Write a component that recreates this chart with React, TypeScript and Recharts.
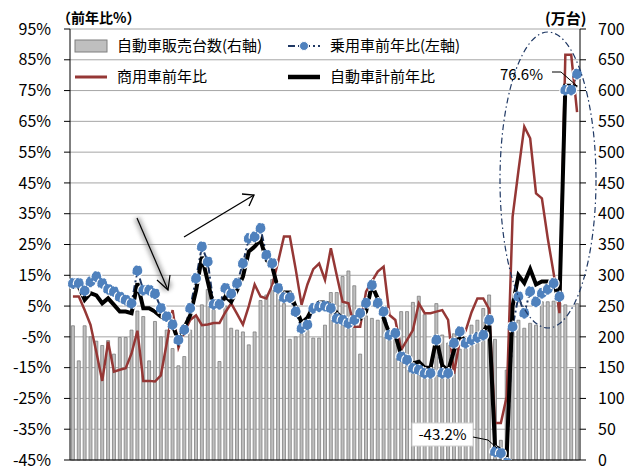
import { ComposedChart, Bar, Line, XAxis, YAxis, CartesianGrid } from "recharts";

const FONT = "'Noto Sans CJK JP', 'Noto Sans', sans-serif";

// 2014/1 .. 2021/3, monthly (Jan and Feb share the combined Jan-Feb rate)
const months = Array.from({ length: 87 }, (_, i) => `${2014 + Math.floor(i / 12)}/${(i % 12) + 1}`);

// 自動車販売台数 (万台, right axis)
const sales = [
  218, 161, 218, 200, 193, 186, 194, 172, 199, 199, 211, 242,
  233, 161, 225, 200, 211, 181, 153, 168, 211, 232, 252, 277,
  252, 160, 250, 214, 211, 208, 187, 208, 259, 268, 293, 276,
  254, 196, 200, 211, 216, 198, 198, 219, 272, 272, 298, 307,
  283, 172, 234, 230, 227, 227, 211, 203, 241, 241, 256, 266,
  236, 150, 254, 203, 190, 205, 180, 196, 219, 227, 246, 268,
  196, 32, 146, 214, 227, 214, 222, 219, 257, 257, 258, 255,
  252, 147, 254,
];

// 乗用車前年比 (%)
const passenger = [
  12.4, 12.4, 10, 12.9, 14.6, 12.4, 10.5, 9.7, 8, 7, 5.9, 16.5,
  10.2, 10.2, 9, 4.3, 1.6, -1, -6, -2.7, 4.3, 14, 24.3, 19.4,
  5.6, 5.6, 10.8, 9, 12.4, 18.9, 27, 27.5, 30.3, 21.6, 18.9, 10.8,
  7.8, 7.8, 3.2, -2.2, -1.1, 4.3, 4.8, 5, 4.3, 1, 0.5, -0.6,
  0.5, 2.7, 6, 11.8, 6, 3.2, -4.4, -3.8, -11.4, -12.5, -15.2, -15.7,
  -16.8, -16.8, -6, -16.8, -16.8, -7, -3.3, -7, -6, -5.2, -4.4, 0.5,
  -42.3, -42.8, -46, -1.7, 8.1, 2.7, 9.7, 6.4, 9.2, 10.5, 12.4, 8.1,
  75.2, 75.2, 80.4,
];

// 商用車前年比 (%)
const commercial = [
  8.1, 8.1, 3.7, -1.1, -10, -19.3, -6.6, -16.3, -15.7, -15.2, -10.4, -3,
  -19.3, -19.3, -19.5, -17.5, -7.1, 3.7, -8.5, -3.5, 0.5, 2, -1.2, -1,
  -0.5, -0.5, 3, 5.9, 2.5, -1, 5, 12, 8.1, 7.5, 11.8, 19.4,
  27.6, 27.6, 17, 5.4, 12, 17, 18.8, 13.5, 23.8, 15, 6.4, 5.9,
  -1.7, -1.7, 9.7, 13, 16.2, 17.8, 2.1, 0.5, -9.2, -6, -2.8, 5.9,
  2.7, 2.7, 3.2, 3.7, 0.5, -17, -6, -3, 3, 7.5, 7.5, 4,
  -33, -33, -24.4, 34, 49, 63.3, 59.5, 41.6, 40, 27, 15.7, 2.7,
  86.6, 86.6, 68,
];

// 自動車計前年比 (%)
const total = [
  11.3, 11.3, 7, 9.2, 8.5, 5.9, 7.5, 5.4, 3.2, 3.2, 2.7, 12.4,
  4.3, 4.3, 3.2, 1.6, 1, -1.1, -6.5, -2, 2, 10, 21, 13,
  4.8, 4.8, 8.1, 6.4, 10.2, 14.6, 22.7, 24.3, 26.5, 20, 17.8, 10.5,
  9.4, 9.4, 4.8, -0.5, 1.2, 4.8, 6.2, 6.2, 5.5, 2.8, 1, 0.6,
  0.8, 0.8, 3.2, 11.8, 7.5, 1, -4, -4.4, -11, -12, -13.6, -13.1,
  -15, -15, -5.5, -14.3, -16, -9.5, -4.4, -6.5, -5, -4, -3.5, 0,
  -40.6, -41.7, -43.2, 5, 15, 12.5, 17, 12, 13, 13, 12.5, 6.5,
  76.6, 76.6, 76,
];

const leftTicks = [-45, -35, -25, -15, -5, 5, 15, 25, 35, 45, 55, 65, 75, 85, 95];
const rightTicks = [0, 50, 100, 150, 200, 250, 300, 350, 400, 450, 500, 550, 600, 650, 700];

const data = months.map((m, i) => ({
  m,
  sales: sales[i],
  passenger: passenger[i],
  commercial: commercial[i],
  total: total[i],
}));

const NAVY = "#1f3864";

function Overlay() {
  return (
    <svg
      width={637}
      height={468}
      style={{ position: "absolute", left: 0, top: 0, pointerEvents: "none" }}
      fontFamily={FONT}
    >
      <defs>
        <filter id="fuzz" x="-50%" y="-50%" width="200%" height="200%">
          <feGaussianBlur stdDeviation="2" />
        </filter>
      </defs>

      {/* axis titles */}
      <text x={57} y={23} fontSize={14} fontWeight="bold">（前年比%）</text>
      <text x={545} y={24} fontSize={15} fontWeight="bold">(万台)</text>

      {/* legend */}
      <rect x={75} y={40} width={32} height={12} fill="#bfbfbf" stroke="#7f7f7f" />
      <text x={117} y={51} fontSize={15}>自動車販売台数(右軸)</text>
      <line x1={288} x2={320} y1={46} y2={46} stroke={NAVY} strokeWidth={2} strokeDasharray="7 3 2 3" />
      <circle cx={304} cy={46} r={4.5} fill="#4f81bd" stroke="#fff" strokeWidth={1} />
      <text x={330} y={51} fontSize={15}>乗用車前年比(左軸)</text>
      <line x1={75} x2={107} y1={77} y2={77} stroke="#953735" strokeWidth={3} />
      <text x={117} y={82} fontSize={15}>商用車前年比</text>
      <line x1={288} x2={320} y1={77} y2={77} stroke="#000" strokeWidth={4.5} />
      <text x={330} y={82} fontSize={15}>自動車計前年比</text>

      {/* highlight ellipse */}
      <ellipse cx={548} cy={180} rx={48} ry={148} fill="none" stroke={NAVY} strokeWidth={1.2} strokeDasharray="6 3 1.5 3" />

      {/* 76.6% callout */}
      <text x={500} y={80} fontSize={15}>76.6%</text>
      <polyline points="552,72 561,72 577,86" fill="none" stroke="#000" strokeWidth={1} />

      {/* -43.2% callout */}
      <rect x={412} y={423} width={61} height={23} fill="#fff" stroke="#d0d0d0" />
      <text x={442.5} y={440} fontSize={15} textAnchor="middle">-43.2%</text>
      <polyline points="473,437 488,440 497,448" fill="none" stroke="#000" strokeWidth={1} />

      {/* rising arrow */}
      <line x1={184} y1={237} x2={254} y2={195} stroke="#000" strokeWidth={1.3} />
      <polyline points="242,194 254,195 249,206" fill="none" stroke="#000" strokeWidth={1.3} />

      {/* fuzzy falling arrow */}
      <g filter="url(#fuzz)" opacity={0.55}>
        <line x1={137} y1={218} x2={168} y2={290} stroke="#777" strokeWidth={6} />
        <circle cx={166} cy={285} r={6} fill="#777" />
      </g>
      <line x1={137} y1={218} x2={168} y2={290} stroke="#000" strokeWidth={1.2} />
      <polyline points="157,280 168,290 170,275" fill="none" stroke="#000" strokeWidth={1.2} />
    </svg>
  );
}

export default function App() {
  return (
    <div
      style={{
        position: "absolute",
        left: 0,
        top: 0,
        width: 637,
        height: 468,
        overflow: "hidden",
        background: "#fff",
        fontFamily: FONT,
      }}
    >
      <ComposedChart
        width={637}
        height={500}
        data={data}
        margin={{ top: 29, right: 0, bottom: 10, left: 0 }}
        barCategoryGap="24%"
      >
        <CartesianGrid yAxisId="l" vertical={false} stroke="#a6a6a6" />
        <XAxis
          dataKey="m"
          height={30}
          tick={false}
          tickLine={false}
          axisLine={{ stroke: "#000" }}
        />
        <YAxis
          yAxisId="l"
          width={70}
          domain={[-45, 95]}
          ticks={leftTicks}
          interval={0}
          allowDataOverflow
          tickFormatter={(v: number) => `${v}%`}
          tick={{ fontSize: 16, fill: "#000" }}
          tickSize={6}
          tickMargin={13}
          axisLine={{ stroke: "#000" }}
          tickLine={{ stroke: "#000" }}
        />
        <YAxis
          yAxisId="r"
          orientation="right"
          width={57}
          domain={[0, 700]}
          ticks={rightTicks}
          interval={0}
          tick={{ fontSize: 16, fill: "#000" }}
          tickSize={6}
          tickMargin={12}
          axisLine={{ stroke: "#000" }}
          tickLine={{ stroke: "#000" }}
        />
        <Bar
          yAxisId="r"
          dataKey="sales"
          fill="#bfbfbf"
          stroke="#7f7f7f"
          strokeWidth={0.8}
          isAnimationActive={false}
        />
        <Line
          yAxisId="l"
          dataKey="passenger"
          stroke={NAVY}
          strokeWidth={2}
          strokeDasharray="7 3 2 3"
          dot={{ r: 5.5, fill: "#4f81bd", stroke: "#fff", strokeWidth: 1.2 }}
          isAnimationActive={false}
        />
        <Line
          yAxisId="l"
          dataKey="commercial"
          stroke="#953735"
          strokeWidth={2.5}
          dot={false}
          isAnimationActive={false}
        />
        <Line
          yAxisId="l"
          dataKey="total"
          stroke="#000"
          strokeWidth={4}
          dot={false}
          isAnimationActive={false}
        />
      </ComposedChart>
      <Overlay />
    </div>
  );
}
